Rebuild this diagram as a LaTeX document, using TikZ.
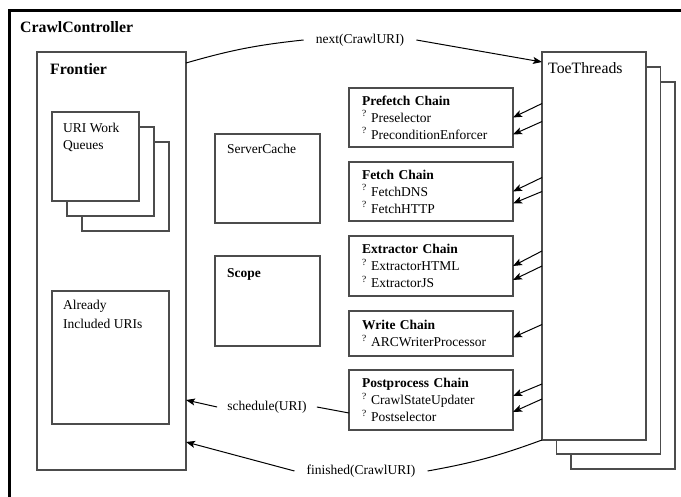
\documentclass[tikz,border=0pt]{standalone}
\usepackage{fontspec}
\setmainfont{Liberation Serif}
\usetikzlibrary{arrows.meta, positioning, calc}

\newcommand{\txtfont}{\fontsize{13.5}{17}\selectfont}
\newcommand{\hdfont}{\fontsize{15.8}{19}\selectfont}

\begin{document}
\begin{tikzpicture}[
  x=1pt, y=-1pt,
  node distance=15pt,
  box/.style={rectangle, draw=black!70, line width=1.1pt, fill=white,
              anchor=north west, inner sep=0pt, outer sep=0pt},
  ttl/.style={anchor=north west, align=left, inner xsep=11pt, inner ysep=10pt,
              font=\txtfont},
  chain/.style={rectangle, draw=black!70, line width=1.1pt, anchor=north west,
                text width=138pt, inner xsep=13pt, inner ysep=0pt, outer sep=0pt,
                align=left, minimum height=59pt, font=\txtfont},
  msg/.style={font=\txtfont, inner xsep=12pt, inner ysep=2pt},
  arr/.style={-{Stealth[length=9pt, width=7pt, inset=2pt]}, line width=1pt},
  con/.style={line width=1pt}
]
\useasboundingbox (0,0) rectangle (681,497);

% CrawlController frame, right and bottom edges fall off the page
\node[draw, line width=2.8pt, minimum width=720pt, minimum height=540pt, anchor=north west,
      label={[ttl, inner xsep=12pt, inner ysep=12pt, font=\hdfont\bfseries]north west:CrawlController}] (cc) at (8,9) {};

% Frontier with its queues
\node[box, minimum width=149pt, minimum height=418pt,
      label={[ttl, inner xsep=13pt, inner ysep=11pt, font=\hdfont\bfseries]north west:Frontier}] (fr) at (37,52) {};
\node[box, minimum width=87pt, minimum height=89pt] (q3) at (82,142) {};
\node[box, minimum width=87pt, minimum height=89pt] (q2) at ($(q3.north west)+(-15,-15)$) {};
\node[box, minimum width=87pt, minimum height=89pt,
      label={[ttl, inner ysep=11pt]north west:URI Work\\Queues}] (q1) at ($(q2.north west)+(-15,-15)$) {};
\node[box, minimum width=117pt, minimum height=133pt,
      label={[ttl, inner ysep=9pt, font=\fontsize{13.5}{18.5}\selectfont]north west:Already\\Included URIs}] (incl) at (52,291) {};

% ServerCache and Scope
\node[box, minimum width=105pt, minimum height=89pt,
      label={[ttl, inner xsep=12pt]north west:ServerCache}] (sc) at (215,134) {};
\node[box, minimum width=105pt, minimum height=90pt, below=33pt of sc,
      label={[ttl, inner xsep=12pt, inner ysep=12pt, font=\txtfont\bfseries]north west:Scope}] (scope) {};

% ToeThreads stack
\node[box, minimum width=104pt, minimum height=387pt] (toe3) at (571,82) {};
\node[box, minimum width=104pt, minimum height=387pt] (toe2) at ($(toe3.north west)+(-14.5,-15)$) {};
\node[box, minimum width=104pt, minimum height=388pt,
      label={[ttl, inner xsep=6pt, font=\hdfont]north west:ToeThreads}] (toe) at ($(toe2.north west)+(-14.5,-15)$) {};

% Processor chains
\node[chain] (pre) at (349,88) {\textbf{Prefetch Chain}\\\textsuperscript{?} Preselector\\\textsuperscript{?} PreconditionEnforcer};
\node[chain, below=of pre] (fet) {\textbf{Fetch Chain}\\\textsuperscript{?} FetchDNS\\\textsuperscript{?} FetchHTTP};
\node[chain, minimum height=60pt, below=of fet] (ext) {\textbf{Extractor Chain}\\\textsuperscript{?} ExtractorHTML\\\textsuperscript{?} ExtractorJS};
\node[chain, minimum height=45pt, below=of ext] (wri) {\textbf{Write Chain}\\\textsuperscript{?} ARCWriterProcessor};
\node[chain, minimum height=60pt, below=14pt of wri] (pos) {\textbf{Postprocess Chain}\\\textsuperscript{?} CrawlStateUpdater\\\textsuperscript{?} Postselector};

% Messages between Frontier and ToeThreads
\node[msg] (nxt) at (360,40) {next(CrawlURI)};
\node[msg, inner xsep=10pt] (sch) at (267,407) {schedule(URI)};
\node[msg] (fin) at (361,471) {finished(CrawlURI)};

\draw[con] ([yshift=-11pt]fr.north east) to[bend left=5] (nxt.west);
\draw[arr] (nxt.east) -- ([yshift=-10pt]toe.north west);
\draw[arr] (sch.west) -- ([yshift=70pt]fr.south east);
\draw[con] (sch.east) -- ([yshift=-13pt]pos.west);
\draw[con] (toe.south west) to[bend left=5] (fin.east);
\draw[arr] (fin.west) -- ([yshift=28pt]fr.south east);

% ToeThreads drive the chains
\draw[arr] ($(toe.west |- pre.east)+(0,-14)$) -- (pre.east);
\draw[arr] ($(toe.west |- pre.east)+(0,4)$) -- ($(pre.east)+(0,17)$);
\draw[arr] ($(toe.west |- fet.east)+(0,-14)$) -- (fet.east);
\draw[arr] (toe.west |- fet.east) -- ($(fet.east)+(0,12)$);
\draw[arr] ($(toe.west |- ext.east)+(0,-15)$) -- (ext.east);
\draw[arr] (toe.west |- ext.east) -- ($(ext.east)+(0,14)$);
\draw[arr] ($(toe.west |- wri.east)+(0,-9)$) -- ($(wri.east)+(0,4)$);
\draw[arr] ($(toe.west |- pos.east)+(0,-16)$) -- ($(pos.east)+(0,-4)$);
\draw[arr] ($(toe.west |- pos.east)+(0,-1)$) -- ($(pos.east)+(0,12)$);

\end{tikzpicture}
\end{document}
